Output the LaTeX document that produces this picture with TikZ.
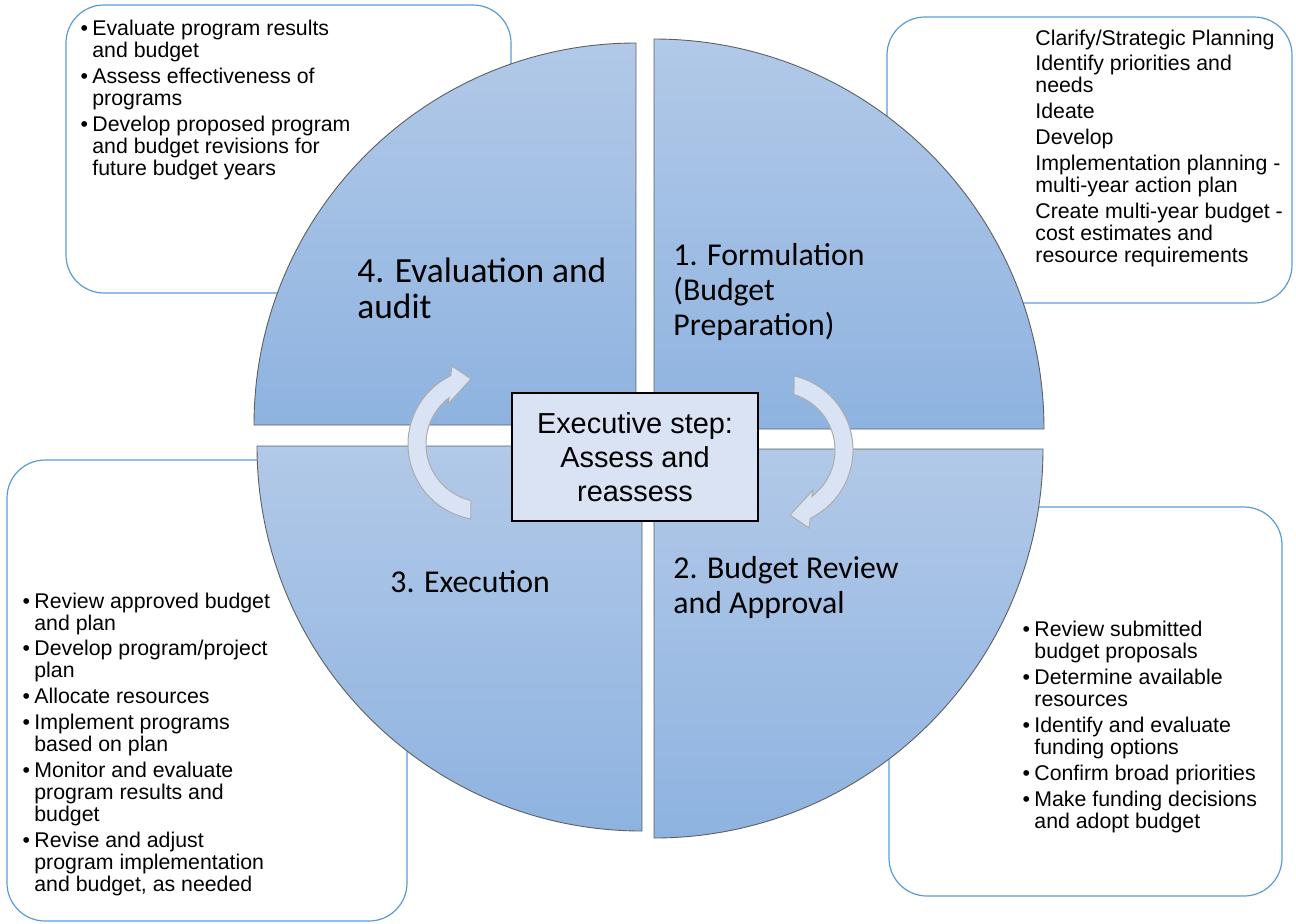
\documentclass[tikz,border=0pt]{standalone}
\usepackage{fontspec}
\setmainfont{Liberation Sans}
\newfontfamily\phasefont{Carlito}

\definecolor{quartertop}{RGB}{178,201,232}
\definecolor{quarterbot}{RGB}{142,179,224}
\definecolor{quarteredge}{RGB}{95,95,95}
\definecolor{noteline}{RGB}{91,155,213}
\definecolor{paleblue}{RGB}{218,227,243}

\tikzstyle{notebox} = [draw=noteline, line width=0.6pt, fill=white, rounded corners=19pt]
\tikzstyle{quarter} = [draw=quarteredge, line width=0.45pt, top color=quartertop, bottom color=quarterbot]
\tikzstyle{cyclearrow} = [draw=gray!65, line width=0.5pt, fill=paleblue]
\tikzstyle{hub} = [rectangle, draw=black, line width=0.6pt, fill=paleblue, minimum width=123pt, minimum height=64pt, align=center, font=\fontsize{14.45}{17}\selectfont]
% multi-line nodes sit on the baseline of their last line
\tikzstyle{phaselabel} = [anchor=base west, inner sep=0pt, align=left, font=\phasefont\fontsize{15.9}{17.5}\selectfont]
\tikzstyle{notetext} = [anchor=base west, inner sep=0pt, align=left, font=\fontsize{10.65}{11}\selectfont]

\newcommand{\bul}{\llap{\textbullet\hspace{2.2pt}}}

\begin{document}
\begin{tikzpicture}[x=0.5pt,y=-0.5pt]
    \useasboundingbox (0,0) rectangle (1296,923);

    % note boxes, behind the wheel
    \draw[notebox] (66,5) rectangle (511,293);
    \draw[notebox] (887,17) rectangle (1292,303);
    \draw[notebox] (7,460) rectangle (407,921);
    \draw[notebox] (889,507) rectangle (1282,896);

    % the four quarters
    \draw[quarter] (636,425) -- ++(-382,0) arc[start angle=180, end angle=270, radius=382] -- cycle;
    \draw[quarter] (654,429) -- ++(0,-390) arc[start angle=270, end angle=360, radius=390] -- cycle;
    \draw[quarter] (642,446) -- ++(-385,0) arc[start angle=180, end angle=90, radius=385] -- cycle;
    \draw[quarter] (654,449) -- ++(389,0) arc[start angle=0, end angle=90, radius=389] -- cycle;

    % curved arrows round the hub
    \coordinate (lc) at (484,444);
    \coordinate (rc) at (777,450);
    \draw[cyclearrow] ([shift={(100:76)}]lc) arc[start angle=100, end angle=244, radius=76]
        -- ([shift={(-32,-78)}]lc) -- ([shift={(-13,-65)}]lc) -- ([shift={(-36,-40)}]lc)
        -- ([shift={(233:58)}]lc) arc[start angle=233, end angle=103, radius=58] -- cycle;
    \draw[cyclearrow] ([shift={(283:76)}]rc) arc[start angle=283, end angle=424, radius=76]
        -- ([shift={(32,78)}]rc) -- ([shift={(13,65)}]rc) -- ([shift={(36,40)}]rc)
        -- ([shift={(413:58)}]rc) arc[start angle=413, end angle=287, radius=58] -- cycle;

    \node[hub] (hub) at (635,457) {Executive step:\\Assess and\\reassess};

    % phase names
    \node[phaselabel] (formulation) at (673,335) {1. Formulation\\(Budget\\Preparation)};
    \node[phaselabel] (approval) at (673,613) {2. Budget Review\\and Approval};
    \node[phaselabel] (execution) at (390,592) {3. Execution};
    \node[phaselabel, font=\phasefont\fontsize{17.7}{17.6}\selectfont] (evaluation) at (357,318) {4. Evaluation and\\audit};

    % notes
    \node[notetext] (evalnotes) at (92,175) {\bul Evaluate program results\\and budget\\[1.9pt]
        \bul Assess effectiveness of\\programs\\[1.9pt]
        \bul Develop proposed program\\and budget revisions for\\future budget years};
    \node[notetext] (formnotes) at (1035,262) {Clarify/Strategic Planning\\[1.9pt]
        Identify priorities and\\needs\\[1.9pt]
        Ideate\\[1.9pt]
        Develop\\[1.9pt]
        Implementation planning -\\multi-year action plan\\[1.9pt]
        Create multi-year budget -\\cost estimates and\\resource requirements};
    \node[notetext] (execnotes) at (34,891) {\bul Review approved budget\\and plan\\[1.9pt]
        \bul Develop program/project\\plan\\[1.9pt]
        \bul Allocate resources\\[1.9pt]
        \bul Implement programs\\based on plan\\[1.9pt]
        \bul Monitor and evaluate\\program results and\\budget\\[1.9pt]
        \bul Revise and adjust\\program implementation\\and budget, as needed};
    \node[notetext] (apprnotes) at (1034,828) {\bul Review submitted\\budget proposals\\[1.9pt]
        \bul Determine available\\resources\\[1.9pt]
        \bul Identify and evaluate\\funding options\\[1.9pt]
        \bul Confirm broad priorities\\[1.9pt]
        \bul Make funding decisions\\and adopt budget};
\end{tikzpicture}
\end{document}
